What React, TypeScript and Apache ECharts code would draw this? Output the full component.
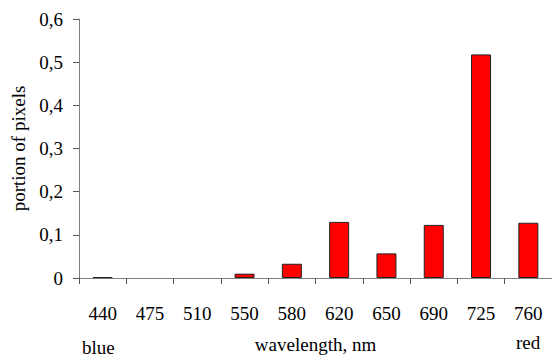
import React, { useEffect, useRef } from "react";
import * as echarts from "echarts";

const categories = ["440", "475", "510", "550", "580", "620", "650", "690", "725", "760"];
const values = [0.002, 0, 0, 0.01, 0.033, 0.13, 0.057, 0.123, 0.518, 0.128];
const yTicks = { min: 0, max: 0.6, interval: 0.1 };
const xAxisTitle = "wavelength, nm";
const yAxisTitle = "portion of pixels";
const leftNote = "blue";
const rightNote = "red";

const FONT = "Liberation Serif";
const FS = 19;

export default function App() {
  const ref = useRef<HTMLDivElement>(null);
  useEffect(() => {
    if (!ref.current) return;
    const chart = echarts.init(ref.current, undefined, { renderer: "svg" });
    chart.setOption({
      animation: false,
      backgroundColor: "#ffffff",
      textStyle: { fontFamily: FONT },
      grid: { left: 79, top: 19, width: 475, height: 263, containLabel: false },
      xAxis: {
        type: "category",
        data: categories,
        boundaryGap: true,
        name: xAxisTitle,
        nameLocation: "middle",
        nameGap: 57,
        nameTextStyle: { fontFamily: FONT, fontSize: FS, color: "#000" },
        axisLine: { show: true, lineStyle: { color: "#808080", width: 1 } },
        axisTick: { show: true, alignWithLabel: false, length: 6, lineStyle: { color: "#555" } },
        axisLabel: { fontFamily: FONT, fontSize: FS, color: "#000", margin: 26 },
        splitLine: { show: false },
      },
      yAxis: {
        type: "value",
        min: yTicks.min,
        max: yTicks.max,
        interval: yTicks.interval,
        name: yAxisTitle,
        nameLocation: "middle",
        nameGap: 48,
        nameRotate: 90,
        nameTextStyle: { fontFamily: FONT, fontSize: FS, color: "#000" },
        axisLine: { show: true, lineStyle: { color: "#808080", width: 1 } },
        axisTick: { show: true, length: 6, lineStyle: { color: "#555" } },
        axisLabel: {
          fontFamily: FONT,
          fontSize: FS,
          color: "#000",
          margin: 16,
          formatter: (v: number) => (v === 0 ? "0" : v.toFixed(1).replace(".", ",")),
        },
        splitLine: { show: false },
      },
      graphic: [
        {
          type: "text",
          left: 82,
          top: 338,
          style: { text: leftNote, fontFamily: FONT, fontSize: FS, fill: "#000" },
        },
        {
          type: "text",
          left: 516,
          top: 333,
          style: { text: rightNote, fontFamily: FONT, fontSize: FS, fill: "#000" },
        },
      ],
      series: [
        {
          type: "bar",
          data: values.map((v) => (v === 0 ? { value: v, itemStyle: { borderWidth: 0 } } : v)),
          barWidth: 20,
          itemStyle: { color: "#ff0000", borderColor: "#222", borderWidth: 1 },
        },
      ],
    });
    return () => chart.dispose();
  }, []);
  return (
    <div
      ref={ref}
      style={{ position: "fixed", left: 0, top: 0, width: 552, height: 359 }}
    />
  );
}
